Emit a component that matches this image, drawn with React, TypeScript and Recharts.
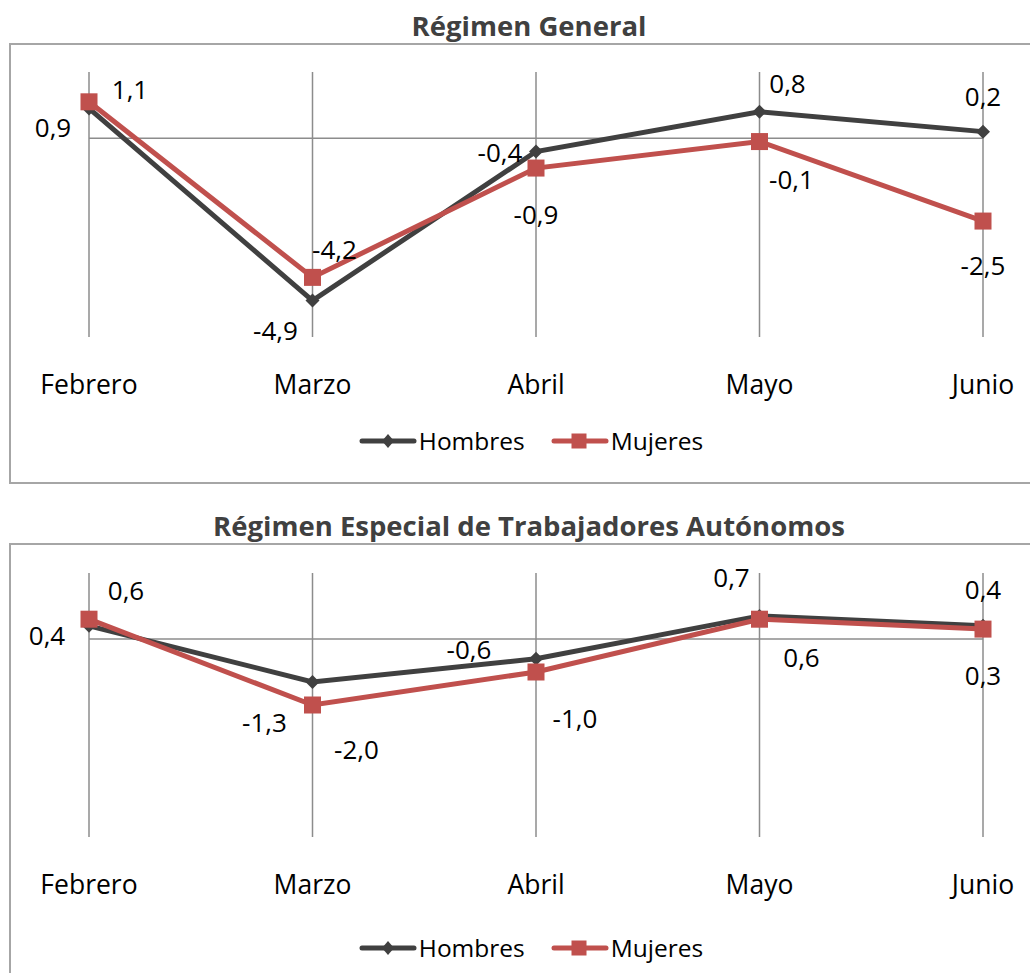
import React from "react";
import {
  LineChart,
  Line,
  XAxis,
  YAxis,
  CartesianGrid,
  ReferenceLine,
  LabelList,
  Legend,
} from "recharts";

const MONTHS = ["Febrero", "Marzo", "Abril", "Mayo", "Junio"];

const GENERAL_HOMBRES = [0.9, -4.9, -0.4, 0.8, 0.2];
const GENERAL_MUJERES = [1.1, -4.2, -0.9, -0.1, -2.5];
const AUTONOMOS_HOMBRES = [0.4, -1.3, -0.6, 0.7, 0.4];
const AUTONOMOS_MUJERES = [0.6, -2.0, -1.0, 0.6, 0.3];

const Y_DOMAIN = [-6, 2];

// label nudges [dx, dy] from each point, same as the hand-placed labels in the original
const GENERAL_H_NUDGE = [[-36, 19], [-37, 29], [-36, 0], [28, -29], [0, -36]];
const GENERAL_M_NUDGE = [[41, -13], [22, -28], [0, 46], [32, 37], [0, 44]];
const AUTONOMOS_H_NUDGE = [[-42, 9], [-48, 40], [-67, -10], [-28, -39], [0, -37]];
const AUTONOMOS_M_NUDGE = [[37, -29], [44, 44], [39, 46], [42, 38], [0, 46]];

const DARK = "#404040";
const RED = "#C0504D";
const GRID = "#8c8c8c";
const BORDER = "#a6a6a6";
const FONT = "'Open Sans', 'Noto Sans', sans-serif";

const fmt = (v: number) => v.toFixed(1).replace(".", ",");

const Diamond = (props: any) => {
  const { cx, cy } = props;
  if (cx == null || cy == null) return null;
  const r = 7;
  return (
    <polygon
      points={`${cx},${cy - r} ${cx + r},${cy} ${cx},${cy + r} ${cx - r},${cy}`}
      fill={DARK}
    />
  );
};

const Square = (props: any) => {
  const { cx, cy } = props;
  if (cx == null || cy == null) return null;
  return <rect x={cx - 8.5} y={cy - 8.5} width={17} height={17} fill={RED} />;
};

const MonthTick = (props: any) => {
  const { x, y, payload } = props;
  return (
    <text x={x} y={y + 57} textAnchor="middle" fontSize={26.5} fill="#000" fontFamily={FONT}>
      {payload.value}
    </text>
  );
};

function valueLabel(nudge: number[][]) {
  return (p: any) => {
    const x = p.x ?? p.viewBox?.x;
    const y = p.y ?? p.viewBox?.y;
    const [dx, dy] = nudge[p.index] || [0, 0];
    return (
      <text
        x={x + dx}
        y={y + dy}
        textAnchor="middle"
        dominantBaseline="central"
        fontSize={26}
        fill="#000"
        fontFamily={FONT}
      >
        {fmt(Number(p.value))}
      </text>
    );
  };
}

const LegendIcon = ({ color, square }: { color: string; square: boolean }) => (
  <svg width={58} height={20} style={{ display: "block" }}>
    <line x1={3} y1={10} x2={55} y2={10} stroke={color} strokeWidth={5} strokeLinecap="round" />
    {square ? (
      <rect x={20.5} y={2.5} width={15} height={15} fill={color} />
    ) : (
      <polygon points="29,3 35,10 29,17 23,10" fill={color} />
    )}
  </svg>
);

const LegendBox = () => (
  <div
    style={{
      display: "flex",
      justifyContent: "center",
      alignItems: "center",
      gap: 26,
      fontFamily: FONT,
      fontSize: 24.5,
      color: "#000",
      lineHeight: "30px",
    }}
  >
    <div style={{ display: "flex", alignItems: "center", gap: 2 }}>
      <LegendIcon color={DARK} square={false} />
      <span>Hombres</span>
    </div>
    <div style={{ display: "flex", alignItems: "center", gap: 2 }}>
      <LegendIcon color={RED} square={true} />
      <span>Mujeres</span>
    </div>
  </div>
);

interface PanelProps {
  title: string;
  hombres: number[];
  mujeres: number[];
  hNudge: number[][];
  mNudge: number[][];
  top: number;
  height: number;
  marginTop: number;
  marginBottom: number;
  legendTop: number;
  titleTop: number;
  boxTop: number;
  boxHeight: number;
  boxBottomBorder: boolean;
}

function Panel(p: PanelProps) {
  const data = MONTHS.map((m, i) => ({ month: m, hombres: p.hombres[i], mujeres: p.mujeres[i] }));
  return (
    <div style={{ position: "absolute", left: 0, top: p.top, width: 1030, height: p.height }}>
      <div
        style={{
          position: "absolute",
          left: 9,
          top: p.boxTop,
          width: 1019,
          height: p.boxHeight,
          borderLeft: `2px solid ${BORDER}`,
          borderTop: `2px solid ${BORDER}`,
          borderBottom: p.boxBottomBorder ? `2px solid ${BORDER}` : "none",
        }}
      />
      <div
        style={{
          position: "absolute",
          left: 14,
          top: p.titleTop,
          width: 1030,
          textAlign: "center",
          fontFamily: FONT,
          fontWeight: 700,
          fontSize: 27.5,
          lineHeight: "30px",
          color: DARK,
        }}
      >
        {p.title}
      </div>
      <div style={{ position: "absolute", left: 0, top: 0 }}>
        <LineChart
          width={1030}
          height={p.height}
          data={data}
          margin={{ top: p.marginTop, right: 47, bottom: p.marginBottom, left: 89 }}
        >
          <CartesianGrid horizontal={false} stroke={GRID} strokeWidth={1.5} />
          <XAxis
            dataKey="month"
            scale="point"
            padding={{ left: 0, right: 0 }}
            axisLine={false}
            tickLine={false}
            tickSize={0}
            tickMargin={0}
            height={60}
            tick={<MonthTick />}
            interval={0}
          />
          <YAxis hide type="number" domain={Y_DOMAIN} />
          <ReferenceLine y={0} stroke={GRID} strokeWidth={1.5} />
          <Line
            dataKey="hombres"
            name="Hombres"
            stroke={DARK}
            strokeWidth={5}
            dot={<Diamond />}
            activeDot={false}
            isAnimationActive={false}
          >
            <LabelList dataKey="hombres" content={valueLabel(p.hNudge)} />
          </Line>
          <Line
            dataKey="mujeres"
            name="Mujeres"
            stroke={RED}
            strokeWidth={5}
            dot={<Square />}
            activeDot={false}
            isAnimationActive={false}
          >
            <LabelList dataKey="mujeres" content={valueLabel(p.mNudge)} />
          </Line>
          <Legend
            content={<LegendBox />}
            verticalAlign="middle"
            align="center"
            wrapperStyle={{ top: p.legendTop, left: 32, width: 998 }}
          />
        </LineChart>
      </div>
    </div>
  );
}

export default function App() {
  return (
    <div style={{ position: "absolute", left: 0, top: 0, width: 1030, height: 973, overflow: "hidden", background: "#fff" }}>
      <Panel
        title="Régimen General"
        hombres={GENERAL_HOMBRES}
        mujeres={GENERAL_MUJERES}
        hNudge={GENERAL_H_NUDGE}
        mNudge={GENERAL_M_NUDGE}
        top={0}
        height={481}
        marginTop={72}
        marginBottom={84}
        legendTop={426}
        titleTop={11}
        boxTop={43}
        boxHeight={437}
        boxBottomBorder={true}
      />
      <Panel
        title="Régimen Especial de Trabajadores Autónomos"
        hombres={AUTONOMOS_HOMBRES}
        mujeres={AUTONOMOS_MUJERES}
        hNudge={AUTONOMOS_H_NUDGE}
        mNudge={AUTONOMOS_M_NUDGE}
        top={500}
        height={473}
        marginTop={73}
        marginBottom={76}
        legendTop={433}
        titleTop={11}
        boxTop={43}
        boxHeight={440}
        boxBottomBorder={false}
      />
    </div>
  );
}
